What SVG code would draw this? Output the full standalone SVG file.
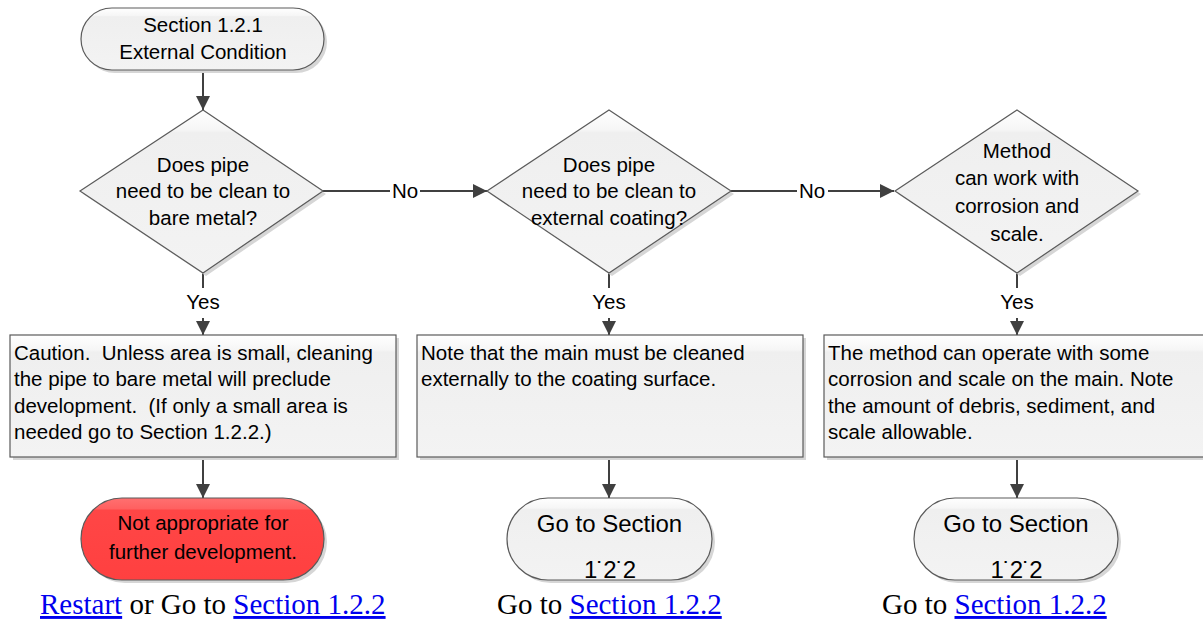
<svg xmlns="http://www.w3.org/2000/svg" width="1203" height="622" viewBox="0 0 1203 622">
  <style>
    .shape { fill: url(#paleFill); stroke: #5a5a5a; stroke-width: 1.2; }
    .shadow { fill: #d6d6d6; stroke: none; }
    .stop { fill: url(#redFill); stroke: #5a5a5a; stroke-width: 1.2; }
    .lbl { font-family: "Liberation Sans", Arial, sans-serif; font-size: 20.5px; fill: #000; white-space: pre; }
    .mid { text-anchor: middle; }
    .big { font-size: 24px; }
    .wire { stroke: #404040; stroke-width: 2; fill: none; }
    .link { font-family: "Liberation Serif", "Times New Roman", serif; font-size: 29px; fill: #000; }
    .a { fill: #0000ee; text-decoration: underline; }
  </style>
  <defs>
    <linearGradient id="paleFill" x1="0" y1="0" x2="0" y2="1">
      <stop offset="0" stop-color="#ffffff"/>
      <stop offset="0.12" stop-color="#f6f6f6"/>
      <stop offset="0.14" stop-color="#efefef"/>
      <stop offset="1" stop-color="#f3f3f3"/>
    </linearGradient>
    <linearGradient id="redFill" x1="0" y1="0" x2="0" y2="1">
      <stop offset="0" stop-color="#ff7070"/>
      <stop offset="0.13" stop-color="#ff6060"/>
      <stop offset="0.15" stop-color="#ff4646"/>
      <stop offset="1" stop-color="#ff4040"/>
    </linearGradient>
    <marker id="headL" viewBox="0 0 10 10" refX="10" refY="5" markerWidth="14" markerHeight="14" markerUnits="userSpaceOnUse" orient="auto">
      <path d="M0,0 L10,5 L0,10 Z" fill="#404040"/>
    </marker>
  </defs>

  <!-- connectors -->
  <g id="connectors">
    <line class="wire" x1="203" y1="70" x2="203" y2="110" marker-end="url(#headL)"/>
    <line class="wire" x1="323" y1="191" x2="390" y2="191"/>
    <line class="wire" x1="420" y1="191" x2="487" y2="191" marker-end="url(#headL)"/>
    <text class="lbl mid" x="405" y="198">No</text>
    <line class="wire" x1="731" y1="191" x2="797" y2="191"/>
    <line class="wire" x1="828" y1="191" x2="894" y2="191" marker-end="url(#headL)"/>
    <text class="lbl mid" x="812" y="198">No</text>

    <line class="wire" x1="203" y1="273" x2="203" y2="288"/>
    <text class="lbl mid" x="203" y="309">Yes</text>
    <line class="wire" x1="203" y1="318" x2="203" y2="335" marker-end="url(#headL)"/>
    <line class="wire" x1="609" y1="273" x2="609" y2="288"/>
    <text class="lbl mid" x="609" y="309">Yes</text>
    <line class="wire" x1="609" y1="318" x2="609" y2="335" marker-end="url(#headL)"/>
    <line class="wire" x1="1017" y1="273" x2="1017" y2="288"/>
    <text class="lbl mid" x="1017" y="309">Yes</text>
    <line class="wire" x1="1017" y1="318" x2="1017" y2="335" marker-end="url(#headL)"/>

    <line class="wire" x1="203" y1="457" x2="203" y2="498" marker-end="url(#headL)"/>
    <line class="wire" x1="609" y1="457" x2="609" y2="498" marker-end="url(#headL)"/>
    <line class="wire" x1="1017" y1="457" x2="1017" y2="498" marker-end="url(#headL)"/>
  </g>

  <g id="start">
    <rect class="shadow" x="84" y="11" width="243" height="62" rx="31"/>
    <rect class="shape" x="81" y="8" width="243" height="62" rx="31"/>
    <text class="lbl mid" x="203" y="32">Section 1.2.1</text>
    <text class="lbl mid" x="203" y="59">External Condition</text>
  </g>

  <g id="q-bare-metal">
    <polygon class="shadow" points="206,113 326,194 206,276 83,194"/>
    <polygon class="shape" points="203,110 323,191 203,273 80,191"/>
    <text class="lbl mid" x="203" y="172">Does pipe</text>
    <text class="lbl mid" x="203" y="198">need to be clean to</text>
    <text class="lbl mid" x="203" y="225">bare metal?</text>
  </g>

  <g id="q-coating">
    <polygon class="shadow" points="612,113 734,194 612,276 490,194"/>
    <polygon class="shape" points="609,110 731,191 609,273 487,191"/>
    <text class="lbl mid" x="609" y="172">Does pipe</text>
    <text class="lbl mid" x="609" y="198">need to be clean to</text>
    <text class="lbl mid" x="609" y="225">external coating?</text>
  </g>

  <g id="q-corrosion">
    <polygon class="shadow" points="1020,113 1141,194 1020,276 898,194"/>
    <polygon class="shape" points="1017,110 1138,191 1017,273 895,191"/>
    <text class="lbl mid" x="1017" y="158">Method</text>
    <text class="lbl mid" x="1017" y="185">can work with</text>
    <text class="lbl mid" x="1017" y="213">corrosion and</text>
    <text class="lbl mid" x="1017" y="241">scale.</text>
  </g>

  <g id="note-caution">
    <rect class="shadow" x="13" y="338" width="386" height="122"/>
    <rect class="shape" x="10" y="335" width="386" height="122"/>
    <text class="lbl" x="14" y="360">Caution.  Unless area is small, cleaning</text>
    <text class="lbl" x="14" y="386">the pipe to bare metal will preclude</text>
    <text class="lbl" x="14" y="413">development.  (If only a small area is</text>
    <text class="lbl" x="14" y="439">needed go to Section 1.2.2.)</text>
  </g>

  <g id="note-coating">
    <rect class="shadow" x="420" y="338" width="386" height="122"/>
    <rect class="shape" x="417" y="335" width="386" height="122"/>
    <text class="lbl" x="421" y="360">Note that the main must be cleaned</text>
    <text class="lbl" x="421" y="386">externally to the coating surface.</text>
  </g>

  <g id="note-corrosion">
    <rect class="shadow" x="827" y="338" width="386" height="122"/>
    <rect class="shape" x="824" y="335" width="386" height="122"/>
    <text class="lbl" x="828" y="360">The method can operate with some</text>
    <text class="lbl" x="828" y="386">corrosion and scale on the main. Note</text>
    <text class="lbl" x="828" y="413">the amount of debris, sediment, and</text>
    <text class="lbl" x="828" y="439">scale allowable.</text>
  </g>

  <g id="end-stop">
    <rect class="shadow" x="84" y="501" width="243" height="82" rx="41"/>
    <rect class="stop" x="81" y="498" width="243" height="82" rx="41"/>
    <text class="lbl mid" x="203" y="530">Not appropriate for</text>
    <text class="lbl mid" x="203" y="559">further development.</text>
  </g>

  <g id="end-goto-a">
    <rect class="shadow" x="510" y="501" width="205" height="82" rx="41"/>
    <rect class="shape" x="507" y="498" width="205" height="82" rx="41"/>
    <text class="lbl big mid" x="609.5" y="532">Go to Section</text>
    <text class="lbl big mid" x="609.5" y="578" letter-spacing="-1">1˙2˙2</text>
  </g>

  <g id="end-goto-b">
    <rect class="shadow" x="917" y="501" width="204" height="82" rx="41"/>
    <rect class="shape" x="914" y="498" width="204" height="82" rx="41"/>
    <text class="lbl big mid" x="1016" y="532">Go to Section</text>
    <text class="lbl big mid" x="1016" y="578" letter-spacing="-1">1˙2˙2</text>
  </g>

  <!-- links under the end points -->
  <g id="links">
    <text class="link" x="40" y="614"><tspan class="a">Restart</tspan> or Go to <tspan class="a">Section 1.2.2</tspan></text>
    <text class="link" x="497" y="614">Go to <tspan class="a">Section 1.2.2</tspan></text>
    <text class="link" x="882" y="614">Go to <tspan class="a">Section 1.2.2</tspan></text>
  </g>
</svg>
